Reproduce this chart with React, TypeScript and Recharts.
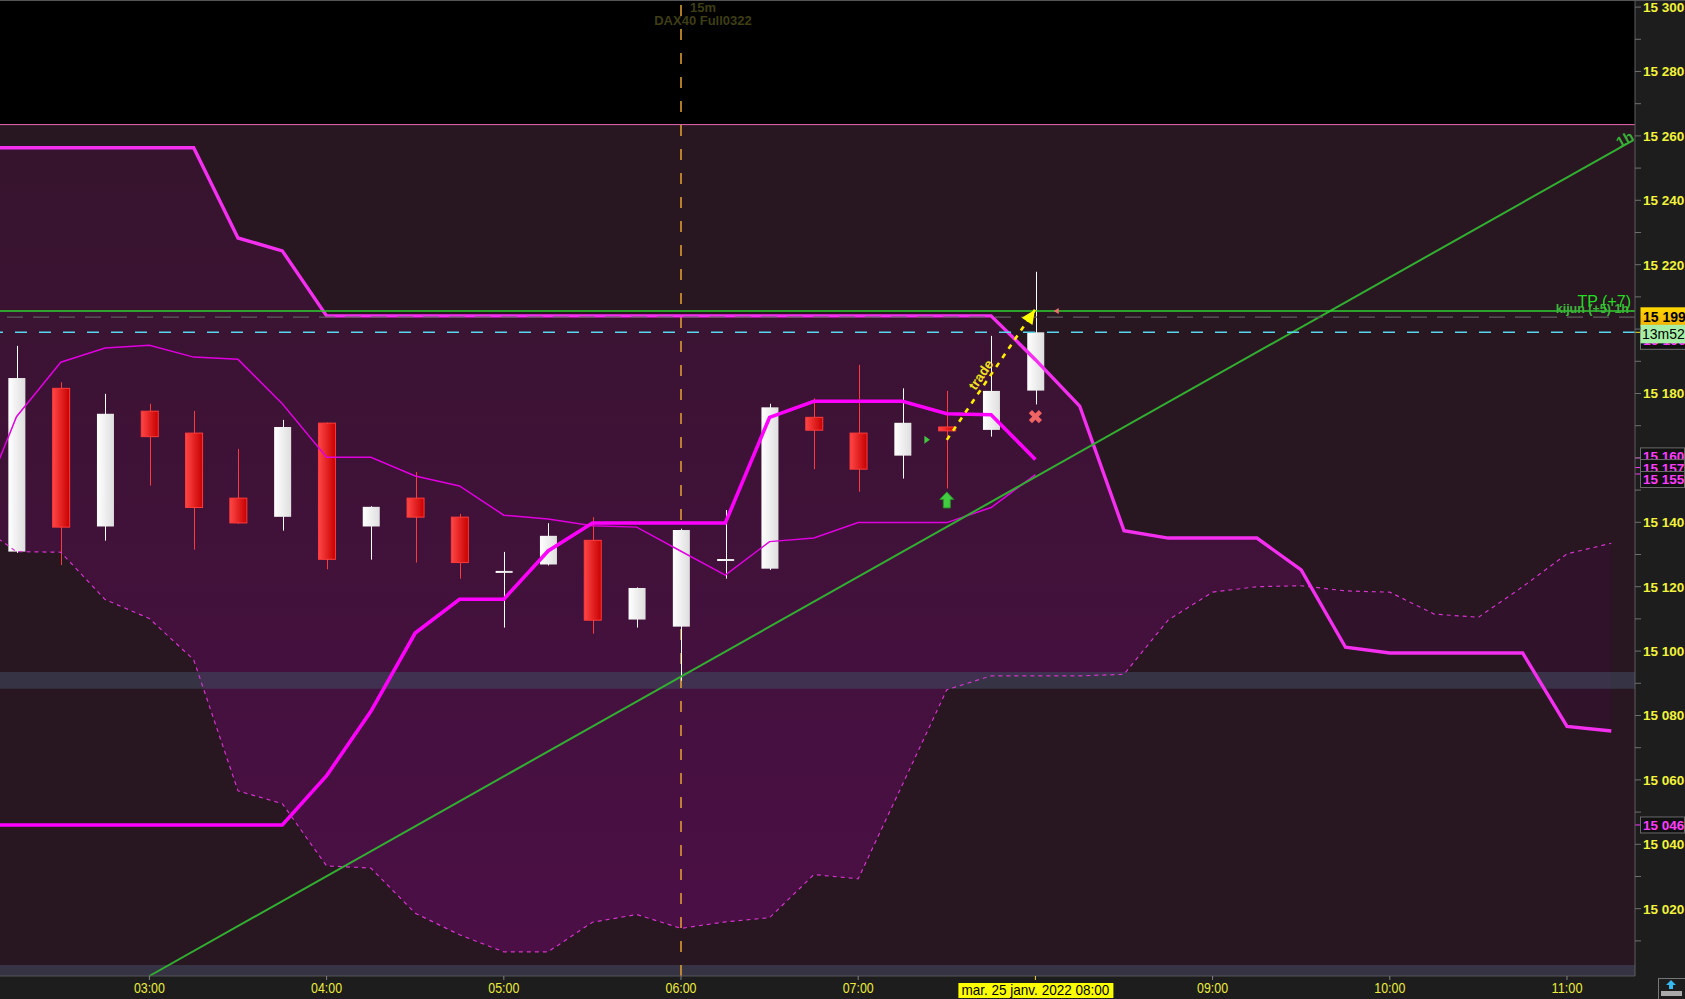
import React from 'react'
import {
  ComposedChart,
  Area,
  Bar,
  Line,
  XAxis,
  YAxis,
  ReferenceArea,
  ReferenceLine,
  ReferenceDot,
} from 'recharts'

// 15 minute slots: slot 0 = 02:15, slot 23 = 08:00 (last candle), slot -1 sits just off the left edge
const slots = [-1, 0, 1, 2, 3, 4, 5, 6, 7, 8, 9, 10, 11, 12, 13, 14, 15, 16, 17, 18, 19, 20, 21, 22, 23, 24, 25, 26, 27, 28, 29, 30, 31, 32, 33, 34, 35, 36]

// candles, slot 0..23
const opens = [15130.9, 15181.6, 15138.7, 15174.5, 15167.7, 15147.5, 15141.7, 15170.8, 15138.7, 15147.5, 15141.6, 15124.5, 15126.9, 15134.4, 15109.8, 15107.6, 15128.2, 15125.6, 15172.6, 15167.7, 15160.7, 15169.6, 15168.7, 15180.9]
const highs = [15194.8, 15183.5, 15179.9, 15176.8, 15174.6, 15162.8, 15171.8, 15171.0, 15145.0, 15155.6, 15142.6, 15130.8, 15139.7, 15141.6, 15119.8, 15138.0, 15143.8, 15176.8, 15178.5, 15188.9, 15181.6, 15180.8, 15197.9, 15217.8]
const lows = [15130.5, 15126.7, 15134.3, 15151.4, 15131.5, 15139.6, 15137.4, 15125.4, 15128.4, 15127.5, 15122.5, 15107.3, 15126.6, 15105.4, 15107.3, 15090.8, 15122.5, 15125.2, 15156.5, 15149.5, 15153.6, 15150.5, 15166.6, 15176.6]
const closes = [15184.8, 15138.5, 15173.7, 15166.6, 15144.6, 15139.8, 15169.6, 15128.5, 15144.8, 15141.6, 15127.5, 15124.9, 15135.8, 15109.6, 15119.6, 15137.6, 15128.6, 15175.7, 15168.6, 15156.5, 15170.9, 15168.4, 15180.8, 15199.0]

// cloud spans, slot -1..36
const spanB = [15256.3, 15256.3, 15256.3, 15256.3, 15256.3, 15256.3, 15228.3, 15224.3, 15204.1, 15204.1, 15204.1, 15204.1, 15204.1, 15204.1, 15204.1, 15204.1, 15204.1, 15204.1, 15204.1, 15204.1, 15204.1, 15204.1, 15204.1, 15204.1, 15190.5, 15176.1, 15137.4, 15135.1, 15135.1, 15135.1, 15125.2, 15101.2, 15099.4, 15099.4, 15099.4, 15099.4, 15076.6, 15075.2]
const spanA = [15140.5, 15130.9, 15130.7, 15116.0, 15110.1, 15097.3, 15056.6, 15052.6, 15033.3, 15032.6, 15018.6, 15011.9, 15006.6, 15006.6, 15015.8, 15018.2, 15013.9, 15015.9, 15017.2, 15030.6, 15029.3, 15058.6, 15088.0, 15092.3, 15092.3, 15092.3, 15092.8, 15109.7, 15118.3, 15120.0, 15120.3, 15118.7, 15118.3, 15111.5, 15110.5, 15120.0, 15130.2, 15133.5]

// slot -1..23
const kijun = [15046.0, 15046.0, 15046.0, 15046.0, 15046.0, 15046.0, 15046.0, 15046.0, 15061.3, 15081.3, 15105.6, 15116.1, 15116.1, 15131.1, 15139.8, 15139.8, 15139.8, 15139.8, 15172.6, 15177.6, 15177.6, 15177.6, 15173.7, 15173.4, 15159.5]
const tenkan = [15138.6, 15172.8, 15189.7, 15194.1, 15195.0, 15191.3, 15190.6, 15176.8, 15160.2, 15160.2, 15154.4, 15151.3, 15142.2, 15141.0, 15138.9, 15138.5, 15131.0, 15123.6, 15134.0, 15135.1, 15139.9, 15139.9, 15139.9, 15144.6, 15154.8]

const hourTicks = [3, 7, 11, 15, 19, 23, 27, 31, 35]
const hourLabels = ['03:00', '04:00', '05:00', '06:00', '07:00', '08:00', '09:00', '10:00', '11:00']
const dateSlot = 23
const dateLabel = 'mar. 25 janv. 2022 08:00'
const priceTicks = [15010, 15020, 15030, 15040, 15050, 15060, 15070, 15080, 15090, 15100, 15110, 15120, 15130, 15140, 15150, 15160, 15170, 15180, 15190, 15200, 15210, 15220, 15230, 15240, 15250, 15260, 15270, 15280, 15290, 15300]
// tick labels hidden under the price tags
const coveredTicks = [15160, 15200]

const yDomain = [14999.1, 15302.2]
const xDomain = [-0.3725, 36.535]
const zoneTop = 15263.5
const tpLevel = 15205.6
const kijunH1 = 15203.7
const lastPrice = 15199
const sessionSlot = 15
const supportBand = [15088.3, 15093.5]
const floorBand = [14999.1, 15002.5]
const trend1h = [{ x: 3, y: 14999.1 }, { x: 36.5, y: 15258.7 }]
const tradeArrow = [{ x: 21, y: 15165.6 }, { x: 22.99, y: 15206 }]
const levelTags = [
  { v: 15160, shift: -2 },
  { v: 15157, shift: 0 },
  { v: 15155, shift: 5.5 },
  { v: 15046, shift: 0 },
]

const FONT = "'Liberation Sans', Arial, Helvetica, sans-serif"
const NARROW = "'Liberation Sans Narrow', 'Arial Narrow', 'Liberation Sans', Arial, sans-serif"

const rows = slots.map((slot, i) => {
  const has = slot >= 0 && slot < opens.length
  return {
    slot,
    spanA: spanA[i],
    spanB: spanB[i],
    kijun: kijun[i] ?? null,
    tenkan: tenkan[i] ?? null,
    cloudA: slot <= 29 ? [spanA[i], spanB[i]] : null,
    cloudB: slot >= 29 ? [spanA[i], spanB[i]] : null,
    range: has ? [lows[slot], highs[slot]] : null,
    o: has ? opens[slot] : null,
    h: has ? highs[slot] : null,
    l: has ? lows[slot] : null,
    c: has ? closes[slot] : null,
  }
})

const priceText = (v: number) => `${Math.floor(v / 1000)} ${String(v % 1000).padStart(3, '0')}`

function Candle(props: any) {
  const { x, y, width, height, payload } = props
  if (!payload || payload.o == null) return <g />
  const { o, h, l, c } = payload
  const top = Math.min(y, y + height)
  const span = Math.abs(height)
  const px = (v: number) => top + ((h - v) / (h - l)) * span
  const up = c >= o
  const bodyTop = px(Math.max(o, c))
  const bodyH = Math.max(2, px(Math.min(o, c)) - bodyTop)
  const mid = Math.round(x + width / 2) + 0.5
  return (
    <g>
      <line x1={mid} x2={mid} y1={top} y2={top + span} stroke={up ? '#ffffff' : '#ff3a3a'} strokeWidth={1} />
      <rect
        x={x}
        y={bodyTop}
        width={width}
        height={bodyH}
        fill={up ? 'url(#bull)' : 'url(#bear)'}
        stroke={up ? 'none' : '#ff3a3a'}
        strokeWidth={1}
      />
    </g>
  )
}

function PriceTick(props: any) {
  const { x, y, payload } = props
  const v = payload.value
  const show = v % 20 === 0 && !coveredTicks.includes(v)
  return (
    <g>
      <line x1={x} x2={x + 6} y1={y} y2={y} stroke="#707070" />
      {show && (
        <text x={x + 8} y={y + 5} fontSize={13.5} fontWeight="bold" fontFamily={FONT} fill="#f2f23a">
          {priceText(v)}
        </text>
      )}
    </g>
  )
}

function TimeTick(props: any) {
  const { x, y, payload } = props
  const i = hourTicks.indexOf(payload.value)
  const isDate = payload.value === dateSlot
  return (
    <g>
      <line x1={x} x2={x} y1={y} y2={y + 4} stroke={isDate ? '#f0e030' : '#808080'} />
      {isDate ? (
        <g>
          <rect x={x - 77} y={y + 7} width={155} height={15} fill="#ffff00" />
          <text x={x} y={y + 19} textAnchor="middle" fontSize={15} fontFamily={NARROW} fill="#000"
            textLength={148} lengthAdjust="spacingAndGlyphs">
            {dateLabel}
          </text>
        </g>
      ) : (
        <text x={x} y={y + 17} textAnchor="middle" fontSize={15} fontFamily={NARROW} fill="#ecec3c"
          textLength={31} lengthAdjust="spacingAndGlyphs">
          {hourLabels[i]}
        </text>
      )}
    </g>
  )
}

const tpLabel = (p: any) => {
  const { x, width, y } = p.viewBox
  const r = x + width
  return (
    <g>
      <text x={r - 6} y={y + 1.5} textAnchor="end" fontSize={12.5} fontWeight="bold" fontFamily={FONT} fill="#3cb43c">
        kijun (+5) 1h
      </text>
      <text x={r - 4} y={y - 4} textAnchor="end" fontSize={16} fontFamily={NARROW} fill="#22dd22">
        TP (+7)
      </text>
    </g>
  )
}

const lastPriceLabel = (p: any) => {
  const { x, width, y } = p.viewBox
  const r = x + width
  return (
    <g>
      <line x1={r} x2={r + 6} y1={y} y2={y} stroke="#f0e030" />
      <rect x={r + 5.5} y={y - 2} width={46} height={19} fill="#111" stroke="#707070" />
      <text x={r + 8} y={y + 13} fontSize={14} fontWeight="bold" fontFamily={FONT} fill="#ff33ff">15 196</text>
      <defs>
        <linearGradient id="gold" x1="0" y1="0" x2="0" y2="1">
          <stop offset="0" stopColor="#ffd900" />
          <stop offset="1" stopColor="#f0b000" />
        </linearGradient>
      </defs>
      <rect x={r + 5.5} y={y - 25} width={46} height={19} fill="url(#gold)" />
      <text x={r + 8} y={y - 10} fontSize={14} fontWeight="bold" fontFamily={FONT} fill="#000">
        {priceText(lastPrice)}
      </text>
      <rect x={r + 5.5} y={y - 7.5} width={46} height={18.5} fill="#a6eea6" />
      <text x={r + 7} y={y + 7} fontSize={14} fontFamily={FONT} fill="#000">13m52s</text>
    </g>
  )
}

const levelLabel = (v: number, shift: number) => (p: any) => {
  const { x, width, y } = p.viewBox
  const r = x + width
  const cy = y + shift
  return (
    <g>
      <line x1={r} x2={r + 6} y1={y} y2={y} stroke="#ff33ff" />
      <rect x={r + 5.5} y={cy - 8} width={44} height={16} fill="#111" stroke="#6a6a6a" />
      <text x={r + 8} y={cy + 5} fontSize={13.5} fontWeight="bold" fontFamily={FONT} fill="#ff3cff">
        {priceText(v)}
      </text>
    </g>
  )
}

const upArrow = (p: any) => {
  const { cx, cy } = p
  return (
    <path
      d={`M${cx} ${cy - 8.5} L${cx + 7} ${cy - 1} L${cx + 3.5} ${cy - 1} L${cx + 3.5} ${cy + 7.5} L${cx - 3.5} ${cy + 7.5} L${cx - 3.5} ${cy - 1} L${cx - 7} ${cy - 1} Z`}
      fill="#42cc42"
      stroke="#2a8f2a"
      strokeWidth={1}
    />
  )
}

const rightTri = (p: any) => (
  <path d={`M${p.cx - 2.5} ${p.cy - 4} L${p.cx + 3} ${p.cy} L${p.cx - 2.5} ${p.cy + 4} Z`} fill="#3fc83f" />
)

const leftTri = (p: any) => (
  <path d={`M${p.cx + 2.5} ${p.cy - 3} L${p.cx - 2.5} ${p.cy} L${p.cx + 2.5} ${p.cy + 3} Z`} fill="#f07070" />
)

const stopCross = (p: any) => {
  const { cx, cy } = p
  return (
    <g stroke="#f06464" strokeWidth={4.5}>
      <line x1={cx - 5} y1={cy - 5} x2={cx + 5} y2={cy + 5} />
      <line x1={cx - 5} y1={cy + 5} x2={cx + 5} y2={cy - 5} />
    </g>
  )
}

const arrowHead = (p: any) => {
  const { cx, cy } = p
  const dx = 0.562
  const dy = -0.827
  const bx = cx - 14 * dx
  const by = cy - 14 * dy
  const nx = 0.827 * 6.5
  const ny = 0.562 * 6.5
  return <path d={`M${cx} ${cy} L${bx + nx} ${by + ny} L${bx - nx} ${by - ny} Z`} fill="#ffff00" />
}

const tradeText = (p: any) => (
  <text x={p.cx} y={p.cy} transform={`rotate(-56 ${p.cx} ${p.cy})`} textAnchor="middle" dominantBaseline="central"
    fontSize={13.5} fontWeight="bold" fontFamily={FONT} fill="#f2e21e">
    trade
  </text>
)

const oneHourText = (p: any) => (
  <text x={p.cx} y={p.cy} transform={`rotate(-29.4 ${p.cx} ${p.cy})`} textAnchor="middle" dominantBaseline="central"
    fontSize={15} fontWeight="bold" fontFamily={FONT} fill="#36b036">
    1h
  </text>
)

export default function App() {
  return (
    <div style={{ position: 'absolute', left: 0, top: 0, width: 1685, height: 999, background: '#000', overflow: 'hidden' }}>
      <div style={{ position: 'absolute', left: 1635, top: 0, width: 50, height: 999, background: '#1d1d1d' }} />
      <div style={{ position: 'absolute', left: 0, top: 976, width: 1685, height: 23, background: '#1d1d1d' }} />
      <div style={{ position: 'absolute', left: 0, top: 0, width: 1685, height: 1, background: '#555' }} />
      <div style={{ position: 'absolute', left: 603, width: 200, top: 1, textAlign: 'center', fontFamily: FONT, fontWeight: 'bold', fontSize: 13, lineHeight: '13px', color: '#3e3e14' }}>
        15m<br />DAX40 Full0322
      </div>
      <div style={{ position: 'absolute', left: 0, top: 0 }}>
        <ComposedChart width={1685} height={999} data={rows} margin={{ top: 0, right: 0, bottom: 0, left: 0 }}>
          <defs>
            <linearGradient id="cloudGrad" x1="0" y1="0" x2="0" y2="1">
              <stop offset="0" stopColor="#36142d" />
              <stop offset="1" stopColor="#4b0f46" />
            </linearGradient>
            <linearGradient id="bull" x1="0" y1="0" x2="1" y2="0">
              <stop offset="0" stopColor="#ffffff" />
              <stop offset="1" stopColor="#dedede" />
            </linearGradient>
            <linearGradient id="bear" x1="0" y1="0" x2="1" y2="0">
              <stop offset="0" stopColor="#ff4646" />
              <stop offset="1" stopColor="#c80000" />
            </linearGradient>
          </defs>
          <XAxis
            dataKey="slot"
            type="number"
            domain={xDomain}
            allowDataOverflow
            ticks={hourTicks}
            interval={0}
            tick={<TimeTick />}
            tickSize={0}
            tickMargin={0}
            tickLine={false}
            axisLine={{ stroke: '#555' }}
            height={23}
          />
          <YAxis
            orientation="right"
            type="number"
            domain={yDomain}
            allowDataOverflow
            ticks={priceTicks}
            interval={0}
            tick={<PriceTick />}
            tickSize={0}
            tickMargin={0}
            tickLine={false}
            axisLine={{ stroke: '#5e5e5e' }}
            width={50}
          />

          <ReferenceArea y1={yDomain[0]} y2={zoneTop} fill="#281620" fillOpacity={1} stroke="none" zIndex={-60} />

          <Area dataKey="cloudA" type="linear" stroke="none" fill="url(#cloudGrad)" fillOpacity={1} isAnimationActive={false} activeDot={false} />
          <Area dataKey="cloudB" type="linear" stroke="none" fill="#30132a" fillOpacity={1} isAnimationActive={false} activeDot={false} />

          <ReferenceArea y1={supportBand[0]} y2={supportBand[1]} fill="#40485e" fillOpacity={0.6} stroke="none" zIndex={150} />
          <ReferenceArea y1={floorBand[0]} y2={floorBand[1]} fill="#40485e" fillOpacity={0.6} stroke="none" zIndex={150} />

          <ReferenceLine y={zoneTop} stroke="#e868b0" strokeWidth={1} zIndex={160} />
          <ReferenceLine x={sessionSlot} stroke="#e8a232" strokeWidth={1.5} strokeDasharray="11 13" zIndex={160} />

          <Bar dataKey="range" barSize={17} shape={<Candle />} isAnimationActive={false} />

          <Line dataKey="spanA" type="linear" stroke="#d434cc" strokeWidth={1.2} strokeDasharray="4 4" dot={false} activeDot={false} isAnimationActive={false} />
          <Line dataKey="tenkan" type="linear" stroke="#e000e0" strokeWidth={1.5} dot={false} activeDot={false} isAnimationActive={false} />
          <Line dataKey="spanB" type="linear" stroke="#f52ff0" strokeWidth={3.4} dot={false} activeDot={false} isAnimationActive={false} />
          <Line dataKey="kijun" type="linear" stroke="#ff00ff" strokeWidth={3.6} dot={false} activeDot={false} isAnimationActive={false} />

          <ReferenceLine segment={trend1h} stroke="#32b032" strokeWidth={2} zIndex={450} />
          <ReferenceLine y={tpLevel} stroke="#2ed22e" strokeWidth={1.4} label={tpLabel} zIndex={450} />
          <ReferenceLine y={kijunH1} stroke="#5c5c5c" strokeWidth={1.3} strokeDasharray="16 10" zIndex={450} />
          <ReferenceLine y={lastPrice} stroke="#58d6ee" strokeWidth={1.5} strokeDasharray="12 12" label={lastPriceLabel} zIndex={450} />
          {levelTags.map(t => (
            <ReferenceLine key={t.v} y={t.v} stroke="none" label={levelLabel(t.v, t.shift)} zIndex={450} />
          ))}

          <ReferenceLine segment={tradeArrow} stroke="#ffee00" strokeWidth={2.6} strokeDasharray="5 6" zIndex={500} />
          <ReferenceDot x={tradeArrow[1].x} y={tradeArrow[1].y} shape={arrowHead} zIndex={500} />
          <ReferenceDot x={21.77} y={15185.8} shape={tradeText} zIndex={500} />
          <ReferenceDot x={21} y={15146.8} shape={upArrow} zIndex={500} />
          <ReferenceDot x={20.55} y={15165.6} shape={rightTri} zIndex={500} />
          <ReferenceDot x={23} y={15172.8} shape={stopCross} zIndex={500} />
          <ReferenceDot x={23.47} y={15205.6} shape={leftTri} zIndex={500} />
          <ReferenceDot x={36.3} y={15259} shape={oneHourText} zIndex={500} />
        </ComposedChart>
      </div>
      <svg style={{ position: 'absolute', left: 1658, top: 978 }} width={27} height={21}>
        <rect x={0.5} y={0.5} width={30} height={22} fill="#1d1d1d" stroke="#777" />
        <path d="M13 2 L18 7 L15 7 L15 11 L11 11 L11 7 L8 7 Z" fill="#36b8f0" />
        <rect x={3} y={13} width={21} height={5} fill="#aaa" />
      </svg>
    </div>
  )
}
